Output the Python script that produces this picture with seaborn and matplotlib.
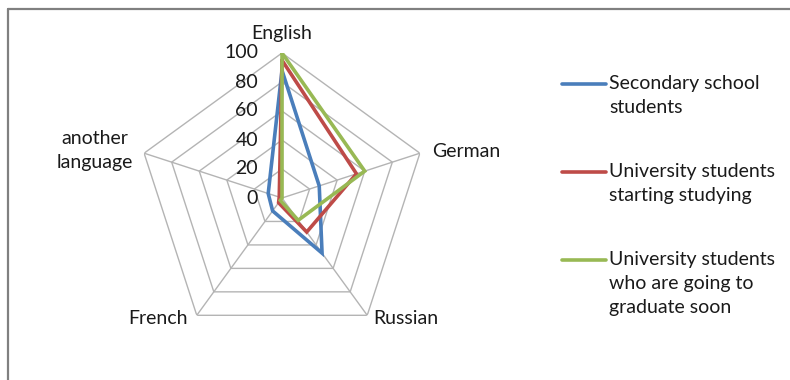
import numpy as np
import pandas as pd
import matplotlib
matplotlib.use("Agg")
import matplotlib.pyplot as plt
from matplotlib.lines import Line2D
import seaborn as sns

# Languages on the radar spokes, clockwise from the top
languages = ["English", "German", "Russian", "French", "another\nlanguage"]

# Share of respondents (%) per language for each group
secondary = [88, 27, 47, 11, 10]
uni_start = [95, 54, 29, 4, 2]
uni_grad = [100, 60, 19, 2, 0]

series_names = [
    "Secondary school\nstudents",
    "University students\nstarting studying",
    "University students\nwho are going to\ngraduate soon",
]
series_values = [secondary, uni_start, uni_grad]
colors = ["#4A7EBB", "#BE4B48", "#98B954"]

ring_levels = [0, 20, 40, 60, 80, 100]

sns.set_style("white")
plt.rcParams["font.family"] = ["Lato", "DejaVu Sans"]
FS = 14

n = len(languages)
angles = np.linspace(0, 2 * np.pi, n, endpoint=False)

# Long-form table with each polygon closed back on its first spoke
rows = []
for name, vals in zip(series_names, series_values):
    for k in range(n + 1):
        rows.append({"group": name, "theta": k * 2 * np.pi / n, "value": vals[k % n]})
df = pd.DataFrame(rows)

W, H = 790, 380
fig = plt.figure(figsize=(W / 100, H / 100), dpi=100)

cx, cy, rad = 282, 198, 145
ax = fig.add_axes([(cx - rad) / W, (H - cy - rad) / H, 2 * rad / W, 2 * rad / H],
                  projection="polar")
ax.set_theta_zero_location("N")
ax.set_theta_direction(-1)
ax.set_ylim(0, 100)
ax.grid(False)
ax.spines["polar"].set_visible(False)
ax.set_xticks([])
ax.set_yticks([])
ax.patch.set_alpha(0)

# Pentagonal grid rings and spokes
grid_color = "#B4B4B4"
closed = np.append(angles, angles[0])
for lvl in ring_levels[1:]:
    ax.plot(closed, [lvl] * (n + 1), color=grid_color, lw=1.0, zorder=1)
for a in angles:
    ax.plot([a, a], [0, 100], color=grid_color, lw=1.0, zorder=1)

# Data polygons
sns.lineplot(data=df, x="theta", y="value", hue="group", palette=colors,
             sort=False, estimator=None, legend=False, lw=2.6, ax=ax, zorder=3)
for ln in ax.get_lines():
    ln.set_solid_joinstyle("miter")
ax.set_xlabel("")
ax.set_ylabel("")
ax.set_ylim(0, 100)

# Radial value labels left of the vertical spoke
for lvl in ring_levels:
    ax.annotate(str(lvl), xy=(0, lvl), xytext=(-24, 0), textcoords="offset pixels",
                ha="right", va="center", fontsize=FS, color="#1a1a1a")

# Spoke labels
label_offsets = [(0, 20, "center"), (12, 2, "left"), (6, -3, "left"),
                 (-9, -3, "right"), (-11, 3, "right")]
for a, lab, (dx, dy, ha) in zip(angles, languages, label_offsets):
    ax.annotate(lab, xy=(a, 100), xytext=(dx, dy), textcoords="offset pixels",
                ha=ha, va="center", fontsize=FS, color="#1a1a1a",
                multialignment="center", linespacing=1.5, annotation_clip=False)

# Legend entries: handle aligned with the first text line
legend_y = [84, 172, 260]
for name, col, y in zip(series_names, colors, legend_y):
    fig.add_artist(Line2D([562 / W, 606 / W], [1 - y / H, 1 - y / H],
                          color=col, lw=2.6, transform=fig.transFigure))
    fig.text(609 / W, 1 - (y - 9) / H, name, ha="left", va="top",
             fontsize=FS, color="#1a1a1a", linespacing=1.5)

# Chart area border (top and left edges)
border = "#808080"
fig.add_artist(Line2D([7.5 / W, 1.0], [1 - 8.5 / H, 1 - 8.5 / H], color=border, lw=1.6,
                      transform=fig.transFigure))
fig.add_artist(Line2D([7.5 / W, 7.5 / W], [1 - 8.5 / H, 0.0], color=border, lw=1.6,
                      transform=fig.transFigure))

fig.savefig("out.png", dpi=100, facecolor="white")
